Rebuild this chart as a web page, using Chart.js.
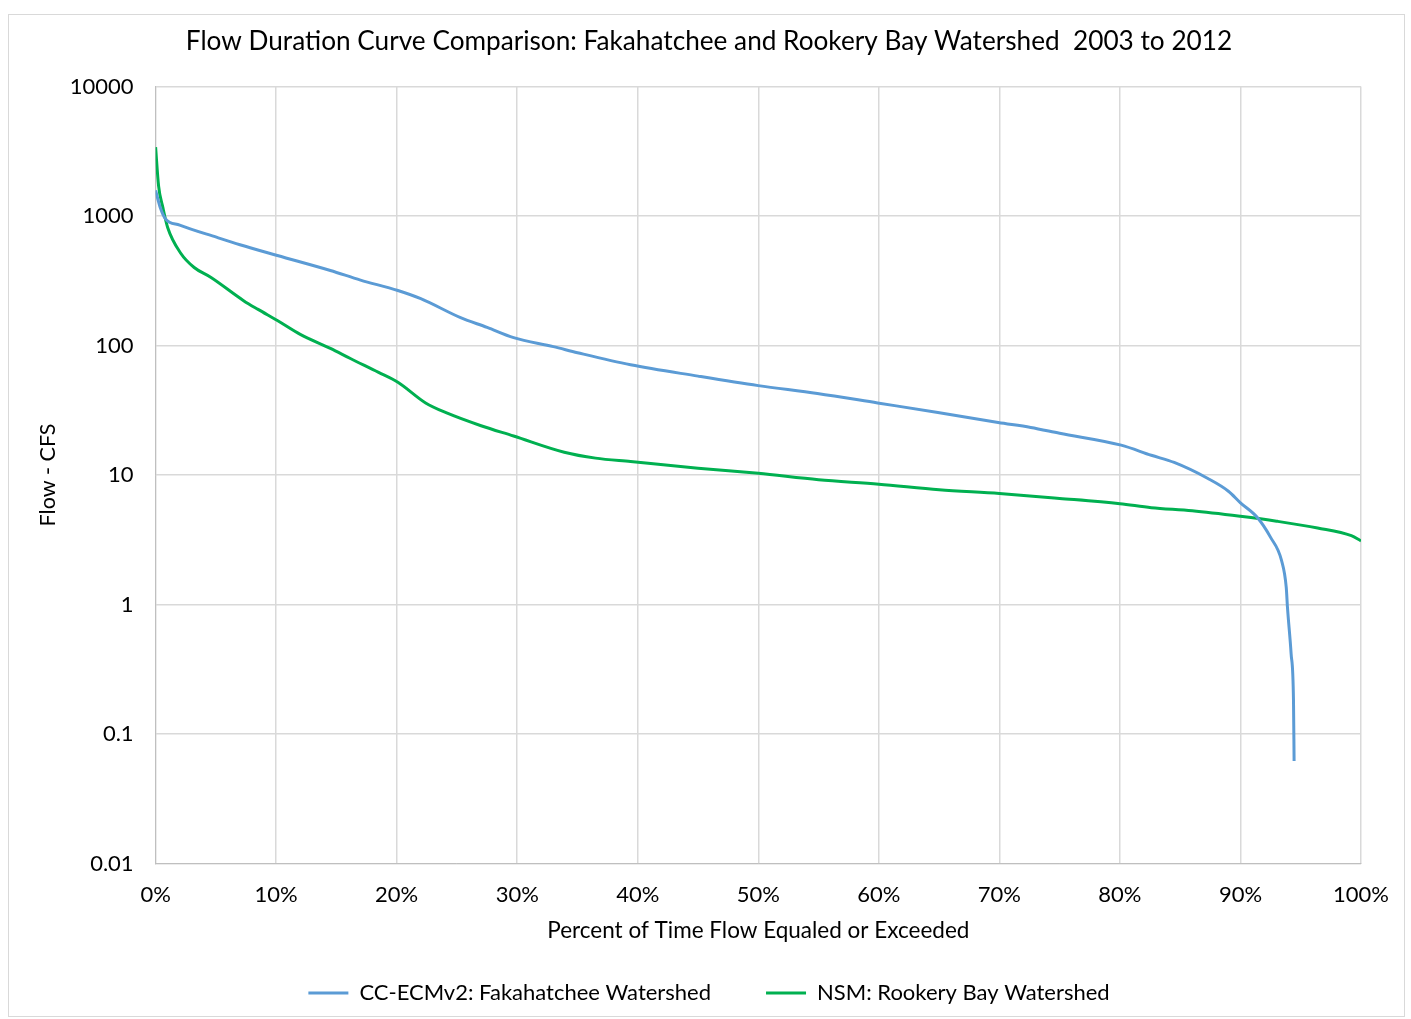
<!DOCTYPE html>
<html>
<head>
<meta charset="utf-8">
<script src="https://cdn.jsdelivr.net/npm/chart.js@4"></script>
<style>
    html, body { margin: 0; padding: 0; background: #fff; }
    #wrap { position: absolute; left: 8px; top: 14px; width: 1397px; height: 1003px; border: 1px solid #d9d9d9; box-sizing: border-box; }
    canvas { position: absolute; left: 0; top: 0; }
</style>
</head>
<body>
<canvas id="fdc" width="1411" height="1019"></canvas>
<script>
// percent of time flow equaled or exceeded (%) and flow (cfs)
const ccX = [0, 0.4, 0.8, 2, 5.1, 7, 10.1, 14.5, 17, 20.1, 22, 25.3, 27.5, 29.7, 33, 35, 39.4, 45, 50, 54.9, 59.9, 64.9, 69.9, 72.6, 75, 80.1, 82.6, 84.5, 87.3, 89, 90, 91.4, 92.5, 93.4, 93.8, 93.9, 94.2, 94.4, 94.45];
const ccY = [1575, 1150, 955, 850, 683, 600, 495, 379, 320, 266, 230, 164, 138, 115, 98, 88, 71, 58, 49, 42.6, 36, 30.4, 25.4, 23.3, 21, 17, 14.2, 12.5, 9.4, 7.5, 6.1, 4.7, 3.3, 2.2, 1.35, 0.95, 0.42, 0.18, 0.062];

const nsmX = [0, 0.25, 0.6, 1.0, 2.1, 3.2, 4.6, 7.3, 8.5, 10.1, 12, 14.5, 16.2, 18.5, 20.1, 22.4, 24.2, 27, 29.7, 33.9, 36.5, 39.4, 45, 50, 55, 60, 65, 70, 75, 80, 82.6, 86, 90, 93, 96.4, 99.2, 100];
const nsmY = [3400, 1700, 1165, 815, 513, 400, 335, 222, 190, 156, 122, 95, 79, 62, 52, 36, 30, 24, 20, 15, 13.5, 12.7, 11.3, 10.3, 9.2, 8.5, 7.7, 7.2, 6.6, 6.0, 5.6, 5.3, 4.8, 4.4, 3.9, 3.4, 3.1];

const xTicks = [0, 10, 20, 30, 40, 50, 60, 70, 80, 90, 100];
const yTicks = [0.01, 0.1, 1, 10, 100, 1000, 10000];

const seriesNames = ['CC-ECMv2: Fakahatchee Watershed', 'NSM: Rookery Bay Watershed'];

const font = 'Lato, "Open Sans", sans-serif';

function pts(xs, ys) {
    return xs.map((x, i) => ({x: x, y: ys[i]}));
}

let chart = new Chart(document.getElementById('fdc'), {
    type: 'line',
    data: {
        datasets: [{
            label: seriesNames[0],
            data: pts(ccX, ccY),
            borderColor: '#5B9BD5',
            backgroundColor: '#5B9BD5',
            borderWidth: 3,
            pointRadius: 0,
            cubicInterpolationMode: 'monotone',
            pointStyle: 'line'
        },
            {
                label: seriesNames[1],
                data: pts(nsmX, nsmY),
                borderColor: '#00B050',
                backgroundColor: '#00B050',
                borderWidth: 3,
                pointRadius: 0,
                cubicInterpolationMode: 'monotone',
                pointStyle: 'line'
            }]
    },
    options: {
        responsive: false,
        animation: false,
        layout: {
            padding: {left: 57, right: 50, top: 26, bottom: 5}
        },
        plugins: {
            title: {
                display: true,
                text: 'Flow Duration Curve Comparison: Fakahatchee and Rookery Bay Watershed  2003 to 2012',
                color: '#000',
                font: {family: font, size: 26.2, weight: 'normal'},
                padding: {top: 0, bottom: 29}
            },
            legend: {
                position: 'bottom',
                labels: {
                    usePointStyle: true,
                    pointStyleWidth: 40,
                    color: '#000',
                    font: {family: font, size: 22},
                    padding: 55
                }
            },
            tooltip: {enabled: false}
        },
        scales: {
            x: {
                type: 'linear',
                min: 0,
                max: 100,
                afterBuildTicks: axis => { axis.ticks = xTicks.map(v => ({value: v})); },
                ticks: {
                    color: '#000',
                    font: {family: font, size: 22},
                    padding: 18,
                    maxRotation: 0,
                    callback: v => v + '%'
                },
                grid: {color: '#d9d9d9', lineWidth: 1.5, drawTicks: false},
                border: {color: '#bfbfbf'},
                title: {
                    display: true,
                    text: 'Percent of Time Flow Equaled or Exceeded',
                    color: '#000',
                    font: {family: font, size: 22.5},
                    padding: {top: -9, bottom: -17}
                }
            },
            y: {
                type: 'logarithmic',
                min: 0.01,
                max: 10000,
                afterBuildTicks: axis => { axis.ticks = yTicks.map(v => ({value: v})); },
                ticks: {
                    color: '#000',
                    font: {family: font, size: 22},
                    padding: 22,
                    callback: v => String(v)
                },
                grid: {color: '#d9d9d9', lineWidth: 1.5, drawTicks: false},
                border: {color: '#bfbfbf'},
                title: {
                    display: true,
                    text: 'Flow - CFS',
                    color: '#000',
                    font: {family: font, size: 21.5},
                    padding: {top: -22, bottom: -13}
                }
            }
        }
    }
})
</script>
<div id="wrap"></div>
</body>
</html>
